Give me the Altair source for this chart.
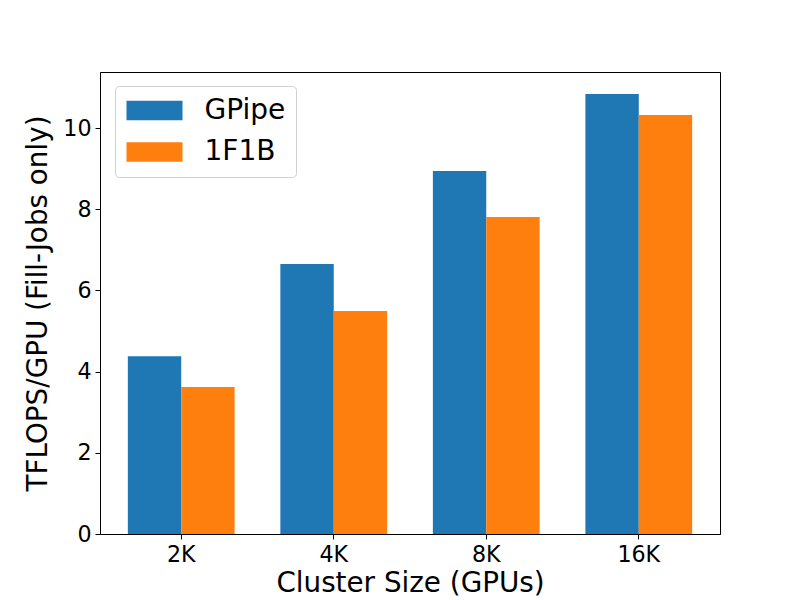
import altair as alt
import pandas as pd

clusters = ["2K", "4K", "8K", "16K"]
series = ["GPipe", "1F1B"]
gpipe = [4.38, 6.65, 8.94, 10.84]
f1b = [3.62, 5.49, 7.81, 10.32]
colors = ["#1f77b4", "#ff7f0e"]

rows = []
for c, g, f in zip(clusters, gpipe, f1b):
    rows.append({"cluster": c, "schedule": "GPipe", "tflops": g})
    rows.append({"cluster": c, "schedule": "1F1B", "tflops": f})
df = pd.DataFrame(rows)

FONT = "DejaVu Sans"

chart = alt.Chart(df).mark_bar().encode(
    x=alt.X("cluster:N", sort=clusters,
            scale=alt.Scale(paddingInner=0.3, paddingOuter=0.1825),
            axis=alt.Axis(title="Cluster Size (GPUs)", labelAngle=0)),
    xOffset=alt.XOffset("schedule:N", sort=series,
                        scale=alt.Scale(paddingInner=0, paddingOuter=0)),
    y=alt.Y("tflops:Q", scale=alt.Scale(domain=[0, 11.38], nice=False, zero=True),
            axis=alt.Axis(title="TFLOPS/GPU (Fill-Jobs only)", values=[0, 2, 4, 6, 8, 10],
                          grid=False)),
    color=alt.Color("schedule:N", sort=series,
                    scale=alt.Scale(domain=series, range=colors),
                    legend=alt.Legend(title=None, orient="none", legendX=15, legendY=14,
                                      symbolType="M-2,-0.7H2V0.7H-2Z",
                                      symbolSize=784, symbolStrokeWidth=0,
                                      symbolOffset=15,
                                      labelFontSize=28, labelFont=FONT,
                                      labelOffset=36, rowPadding=13.5,
                                      padding=10.5, cornerRadius=4,
                                      strokeColor="#d0d0d0", fillColor="white",
                                      labelColor="black")),
).properties(
    width=620, height=462,
    autosize=alt.AutoSizeParams(type="none"),
    padding={"left": 92, "top": 64, "right": 64, "bottom": 68},
).configure_view(
    stroke="black", strokeWidth=1
).configure_axis(
    grid=False,
    domainColor="black", tickColor="black", labelColor="black", titleColor="black",
    labelFont=FONT, titleFont=FONT, labelFontSize=22.2, titleFontSize=27.8,
    titleFontWeight="normal", tickSize=5, labelPadding=4,
).configure_axisX(
    titlePadding=4, domain=True
).configure_axisY(
    titlePadding=10
)

chart.save("out.html", embed_options={"renderer": "svg", "actions": False})
